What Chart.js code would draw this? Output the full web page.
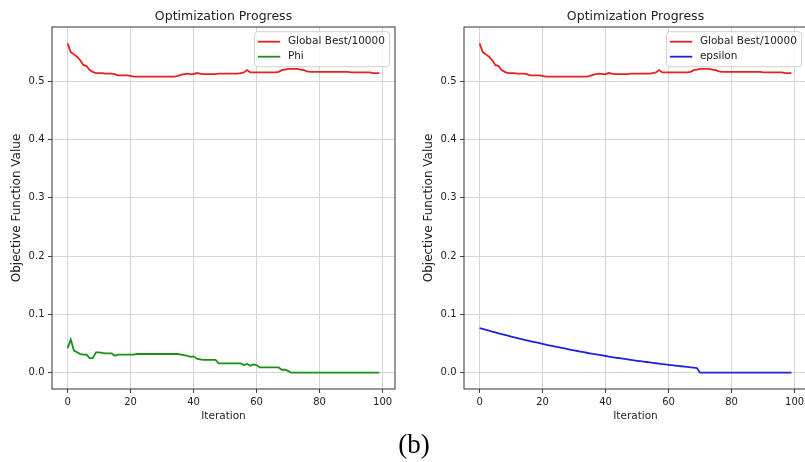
<!DOCTYPE html>
<html>
<head>
<meta charset="utf-8">
<script src="https://cdn.jsdelivr.net/npm/chart.js@4.4.0/dist/chart.umd.min.js"></script>
<style>
  body { margin: 0; width: 805px; height: 462px; overflow: hidden; background: #fff; position: relative; }
  canvas { position: absolute; top: 0; }
  #left { left: 0; }
  #right { left: 412px; }
  #caption { position: absolute; left: 364px; width: 100px; top: 431px; line-height: 27px; text-align: center;
             font-family: "Liberation Serif", "Times New Roman", serif; font-size: 27px; color: #000; }
</style>
</head>
<body>
<canvas id="left" width="410" height="430"></canvas>
<canvas id="right" width="410" height="430"></canvas>
<div id="caption">(b)</div>
<script>
// iteration numbers 0..99
const iterations = Array.from({ length: 100 }, (_, i) => i);

const globalBest = [
  0.565, 0.550, 0.546, 0.542, 0.536, 0.528, 0.526, 0.519, 0.516, 0.514,
  0.514, 0.514, 0.513, 0.513, 0.513, 0.512, 0.510, 0.510, 0.510, 0.510,
  0.509, 0.508, 0.508, 0.508, 0.508, 0.508, 0.508, 0.508, 0.508, 0.508,
  0.508, 0.508, 0.508, 0.508, 0.508, 0.509, 0.511, 0.512, 0.513, 0.512,
  0.512, 0.514, 0.513, 0.512, 0.512, 0.512, 0.512, 0.512, 0.513, 0.513,
  0.513, 0.513, 0.513, 0.513, 0.513, 0.514, 0.515, 0.519, 0.515, 0.515,
  0.515, 0.515, 0.515, 0.515, 0.515, 0.515, 0.515, 0.516, 0.519, 0.520,
  0.521, 0.521, 0.521, 0.521, 0.520, 0.519, 0.517, 0.516, 0.516, 0.516,
  0.516, 0.516, 0.516, 0.516, 0.516, 0.516, 0.516, 0.516, 0.516, 0.516,
  0.515, 0.515, 0.515, 0.515, 0.515, 0.515, 0.515, 0.514, 0.514, 0.514
];

const phi = [
  0.042, 0.057, 0.038, 0.035, 0.032, 0.031, 0.031, 0.025, 0.025, 0.035,
  0.035, 0.034, 0.033, 0.033, 0.033, 0.029, 0.031, 0.031, 0.031, 0.031,
  0.031, 0.031, 0.032, 0.032, 0.032, 0.032, 0.032, 0.032, 0.032, 0.032,
  0.032, 0.032, 0.032, 0.032, 0.032, 0.032, 0.031, 0.030, 0.029, 0.027,
  0.028, 0.024, 0.023, 0.022, 0.022, 0.022, 0.022, 0.022, 0.016, 0.016,
  0.016, 0.016, 0.016, 0.016, 0.016, 0.016, 0.013, 0.015, 0.012, 0.014,
  0.013, 0.009, 0.009, 0.009, 0.009, 0.009, 0.009, 0.009, 0.005, 0.005,
  0.003, 0, 0, 0, 0, 0, 0, 0, 0, 0,
  0, 0, 0, 0, 0, 0, 0, 0, 0, 0,
  0, 0, 0, 0, 0, 0, 0, 0, 0, 0
];

const epsilon = [
  0.0765, 0.0750, 0.0735, 0.0720, 0.0705, 0.0690, 0.0676, 0.0662, 0.0648, 0.0634,
  0.0620, 0.0607, 0.0594, 0.0581, 0.0568, 0.0555, 0.0542, 0.0530, 0.0518, 0.0506,
  0.0494, 0.0482, 0.0470, 0.0459, 0.0448, 0.0437, 0.0426, 0.0415, 0.0404, 0.0393,
  0.0382, 0.0372, 0.0362, 0.0352, 0.0342, 0.0332, 0.0322, 0.0313, 0.0304, 0.0295,
  0.0286, 0.0277, 0.0268, 0.0260, 0.0252, 0.0244, 0.0236, 0.0228, 0.0220, 0.0212,
  0.0204, 0.0197, 0.0190, 0.0183, 0.0176, 0.0169, 0.0162, 0.0155, 0.0148, 0.0141,
  0.0134, 0.0128, 0.0122, 0.0116, 0.0110, 0.0104, 0.0098, 0.0092, 0.0086, 0.0080,
  0, 0, 0, 0, 0, 0, 0, 0, 0, 0,
  0, 0, 0, 0, 0, 0, 0, 0, 0, 0,
  0, 0, 0, 0, 0, 0, 0, 0, 0, 0
];

const xTicks = [0, 20, 40, 60, 80, 100];
const yTicks = [0.0, 0.1, 0.2, 0.3, 0.4, 0.5];

Chart.defaults.font.family = '"DejaVu Sans", sans-serif';
Chart.defaults.color = '#222';

// box around the plot plus a matplotlib-style legend in the upper right
const framePlugin = {
  id: 'frame',
  afterDraw(chart) {
    const { ctx, chartArea: a } = chart;
    ctx.save();
    ctx.strokeStyle = '#333';
    ctx.lineWidth = 1;
    ctx.strokeRect(a.left, a.top, a.right - a.left, a.bottom - a.top);

    ctx.font = '10.5px "DejaVu Sans", sans-serif';
    const sets = chart.data.datasets;
    const textW = Math.max(...sets.map(d => ctx.measureText(d.label).width));
    const padL = 3.3, handle = 22.4, gap = 7.6, padR = 4.7, padT = 2.5, rowH = 15;
    const w = padL + handle + gap + textW + padR;
    const h = padT * 2 + rowH * sets.length;
    const bx = a.right - 5.4 - w;
    const by = a.top + 4.7;
    ctx.beginPath();
    ctx.roundRect(bx, by, w, h, 3);
    ctx.fillStyle = 'rgba(255,255,255,0.8)';
    ctx.fill();
    ctx.strokeStyle = '#d0d0d0';
    ctx.stroke();
    sets.forEach((d, i) => {
      const cy = by + padT + rowH / 2 + i * rowH;
      ctx.beginPath();
      ctx.moveTo(bx + padL, cy);
      ctx.lineTo(bx + padL + handle, cy);
      ctx.strokeStyle = d.borderColor;
      ctx.lineWidth = 1.8;
      ctx.stroke();
      ctx.fillStyle = '#222';
      ctx.textBaseline = 'middle';
      ctx.textAlign = 'left';
      ctx.fillText(d.label, bx + padL + handle + gap, cy);
    });
    ctx.restore();
  }
};

function toPoints(values) {
  return values.map((v, i) => ({ x: iterations[i], y: v }));
}

function makeChart(id, secondLabel, secondValues, secondColor) {
  return new Chart(document.getElementById(id), {
    type: 'line',
    data: {
      datasets: [
        { label: 'Global Best/10000', data: toPoints(globalBest), borderColor: '#e32222', borderWidth: 1.8, pointRadius: 0, tension: 0 },
        { label: secondLabel, data: toPoints(secondValues), borderColor: secondColor, borderWidth: 1.8, pointRadius: 0, tension: 0 }
      ]
    },
    options: {
      responsive: false,
      animation: false,
      devicePixelRatio: 1,
      layout: { padding: { left: 0, right: 15, top: 0, bottom: 0 } },
      plugins: {
        legend: { display: false },
        tooltip: { enabled: false },
        title: {
          display: true,
          fullSize: false,
          text: 'Optimization Progress',
          color: '#222',
          font: { size: 12.5, weight: 'normal' },
          padding: { top: 9.6, bottom: 2.4 }
        }
      },
      scales: {
        x: {
          type: 'linear',
          min: -4.95,
          max: 103.95,
          afterBuildTicks: s => { s.ticks = xTicks.map(v => ({ value: v })); },
          afterFit: s => { s.height = 41; },
          ticks: { font: { size: 10 }, padding: 3, color: '#222', callback: v => String(v) },
          grid: { color: '#d6d6d6', lineWidth: 1, tickColor: '#444', tickLength: 4 },
          border: { display: false },
          title: { display: true, text: 'Iteration', color: '#222', font: { size: 10.5 }, padding: { top: 0, bottom: 7.5 } }
        },
        y: {
          min: -0.028,
          max: 0.593,
          afterBuildTicks: s => { s.ticks = yTicks.map(v => ({ value: v })); },
          afterFit: s => { s.width = 52; },
          ticks: { font: { size: 10 }, padding: 3.5, color: '#222', callback: v => v.toFixed(1) },
          grid: { color: '#d6d6d6', lineWidth: 1, tickColor: '#444', tickLength: 4 },
          border: { display: false },
          title: { display: true, text: 'Objective Function Value', color: '#222', font: { size: 12 }, padding: { top: 10.1, bottom: 0 } }
        }
      }
    },
    plugins: [framePlugin]
  });
}

makeChart('left', 'Phi', phi, '#1b8f1b');
makeChart('right', 'epsilon', epsilon, '#2222dd');
</script>
</body>
</html>
